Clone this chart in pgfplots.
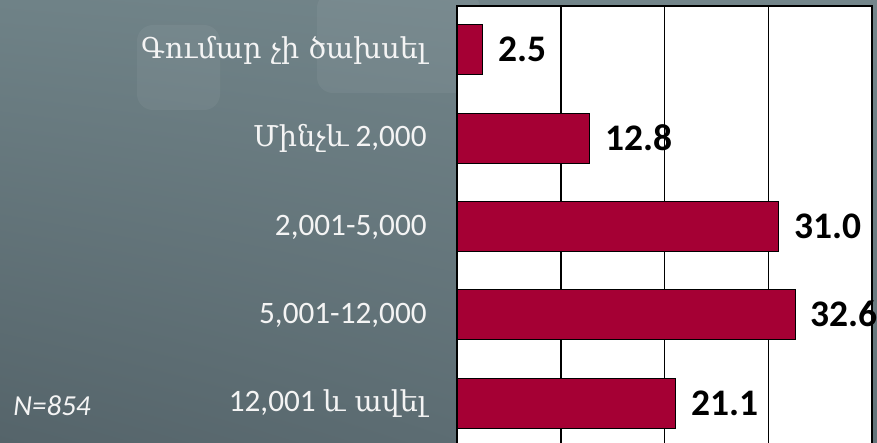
\documentclass[border=0pt]{standalone}
\usepackage{fontspec}
\setmainfont{Carlito}
\newfontfamily\armfont{DejaVu Serif}[Scale=0.92]
\usepackage{pgfplots}
\pgfplotsset{compat=1.18}
\usetikzlibrary{shadings}
\definecolor{barred}{HTML}{A50034}
\definecolor{bgUL}{HTML}{6F8287}
\definecolor{bgUR}{HTML}{74868B}
\definecolor{bgLL}{HTML}{55646A}
\definecolor{bgLR}{HTML}{63747A}
\definecolor{labtxt}{HTML}{F4F4F4}
\begin{document}
\begin{tikzpicture}
\useasboundingbox (0,0) rectangle (438.5pt,-221.5pt);
\clip (0,0) rectangle (438.5pt,-221.5pt);
\shade[upper left=bgUL, upper right=bgUR, lower left=bgLL, lower right=bgLR] (0,0) rectangle (438.5pt,-221.5pt);
\fill[white, opacity=0.05, rounded corners=8pt] (68.5pt,-12.5pt) rectangle (110pt,-55pt);
\fill[white, opacity=0.05, rounded corners=8pt] (158.5pt,4pt) rectangle (240pt,-46.5pt);
\node[anchor=base west, inner sep=0pt, text=labtxt, font=\fontsize{14.5}{16}\selectfont\itshape] at (6.5pt,-207.5pt) {N=854};
\begin{axis}[
  at={(228.5pt,-2.85pt)}, anchor=north west,
  scale only axis, width=207.5pt, height=220.83pt,
  xbar, bar width=0.566,
  xmin=0, xmax=40, ymin=-0.5, ymax=4.5, y dir=reverse,
  axis background/.style={fill=white},
  xmajorgrids, grid style={black, line width=0.75pt},
  axis line style={black, line width=1pt},
  xtick={10,20,30}, xticklabels={},
  ytick={0,1,2,3,4},
  yticklabels={{\armfont Գումար չի ծախսել},{{\armfont Մինչև} 2,000},{2,001-5,000},{5,001-12,000},{12,001 {\armfont և ավել}}},
  major tick length=0pt,
  yticklabel style={anchor=base east, inner sep=0pt, xshift=-15pt, yshift=-4.25pt, font=\fontsize{15.6}{18}\selectfont, text=labtxt},
  nodes near coords={\pgfmathprintnumber[fixed,fixed zerofill,precision=1]{\pgfplotspointmeta}},
  every node near coord/.append style={anchor=base west, inner sep=0pt, xshift=7.5pt, yshift=-6pt, font=\fontsize{18.75}{20}\selectfont\bfseries, text=black},
  /pgf/number format/assume math mode=true,
  clip=false,
]
\addplot[fill=barred, draw=black, line width=0.5pt] coordinates {(2.5,0) (12.8,1) (31.0,2) (32.6,3) (21.1,4)};
\end{axis}
\end{tikzpicture}
\end{document}
